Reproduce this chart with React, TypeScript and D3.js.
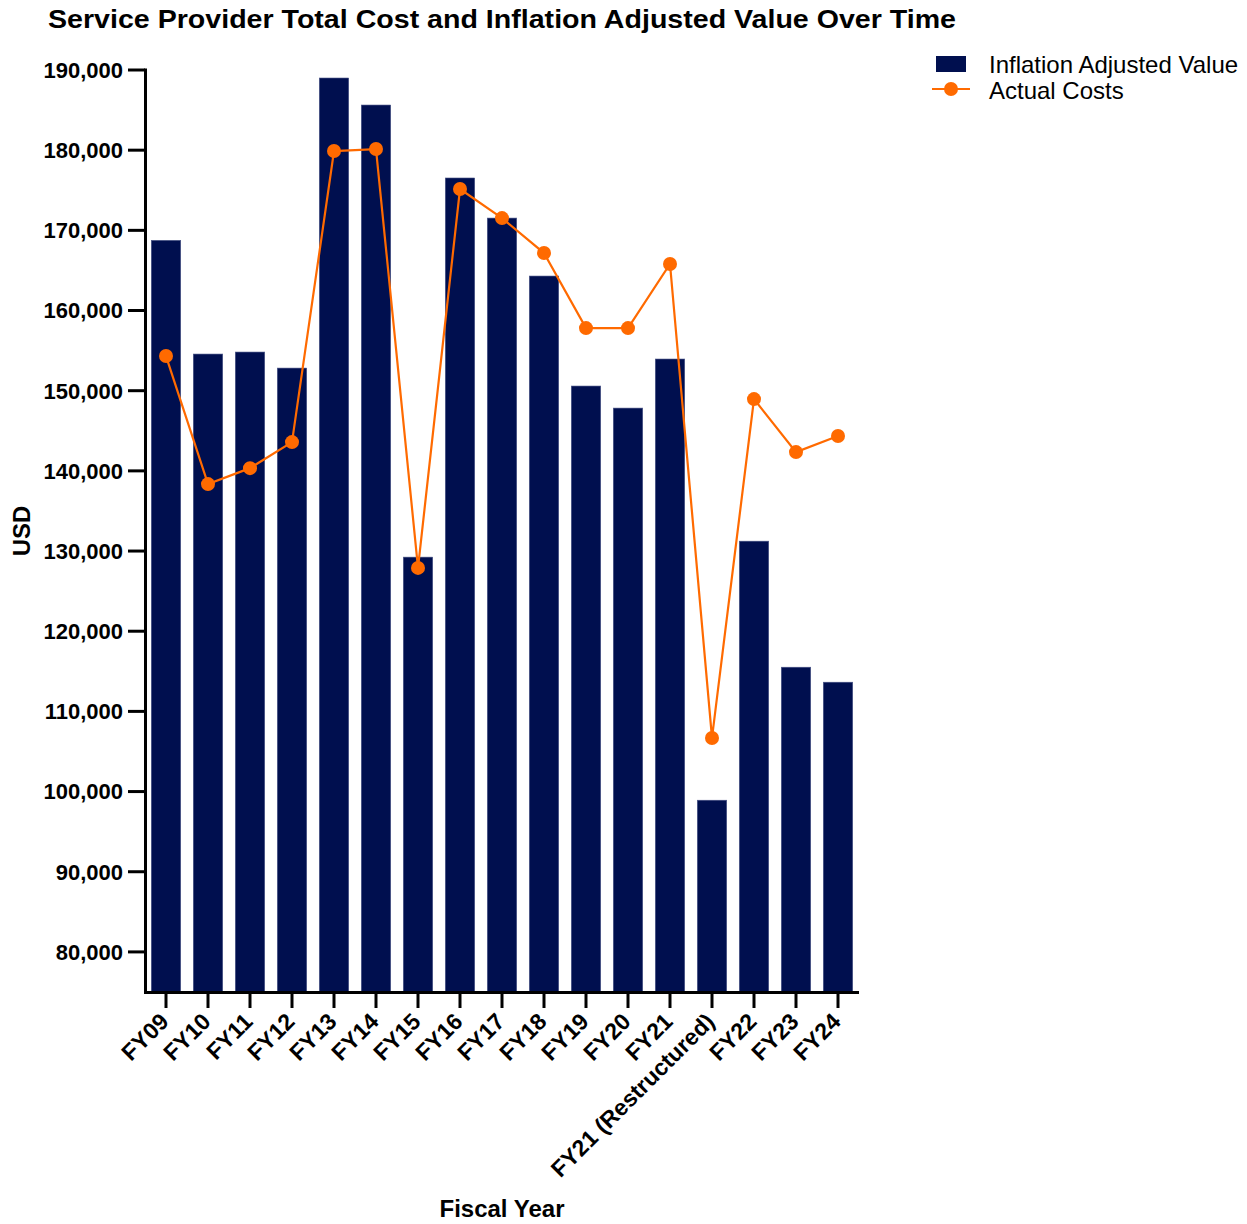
import React from "react";
import * as d3 from "d3";

const categories = [
  "FY09", "FY10", "FY11", "FY12", "FY13", "FY14", "FY15", "FY16", "FY17",
  "FY18", "FY19", "FY20", "FY21", "FY21 (Restructured)", "FY22", "FY23", "FY24",
];

const inflationAdjusted = [
  168750, 154570, 154820, 152820, 189000, 185630, 129240, 176530, 171530,
  164300, 150580, 147830, 153950, 98920, 131230, 115510, 113640,
];

const actualCosts = [
  154320, 138350, 140340, 143590, 179890, 180140, 127900, 175150, 171530,
  167170, 157810, 157810, 165800, 106690, 148950, 142340, 144340,
];

const yTicks = [80000, 90000, 100000, 110000, 120000, 130000, 140000, 150000, 160000, 170000, 180000, 190000];

const FONT = "'Liberation Sans', Arial, Helvetica, sans-serif";
const BAR = "#000F4F";
const LINE = "#FF6A00";

export default function App() {
  const W = 1247;
  const H = 1224;
  const y = d3.scaleLinear().domain([75000, 190000]).range([992, 70]);
  const x = d3
    .scaleBand<string>()
    .domain(categories)
    .range([145, 859])
    .paddingInner(0.3)
    .paddingOuter(0.15);
  const cx = (c: string) => (x(c) ?? 0) + x.bandwidth() / 2;
  const yBase = y(75000);

  const line = d3
    .line<number>()
    .x((_, i) => cx(categories[i]))
    .y((d) => y(d));

  const fmt = d3.format(",");

  return (
    <svg
      width={W}
      height={H}
      style={{ position: "absolute", left: 0, top: 0, display: "block", background: "#fff" }}
      fontFamily={FONT}
    >
      <text
        x={48}
        y={28}
        fontSize={26}
        fontWeight="bold"
        fill="#000"
        textLength={908}
        lengthAdjust="spacingAndGlyphs"
      >
        Service Provider Total Cost and Inflation Adjusted Value Over Time
      </text>

      {/* bars */}
      {inflationAdjusted.map((v, i) => (
        <rect
          key={categories[i]}
          x={x(categories[i])}
          y={y(v)}
          width={x.bandwidth()}
          height={yBase - y(v)}
          fill={BAR}
          stroke="#4a5588"
          strokeWidth={0.6}
        />
      ))}

      {/* cost line */}
      <path d={line(actualCosts) ?? ""} fill="none" stroke={LINE} strokeWidth={2.2} />
      {actualCosts.map((v, i) => (
        <circle key={categories[i]} cx={cx(categories[i])} cy={y(v)} r={7} fill={LINE} />
      ))}

      {/* y axis */}
      <line x1={145.5} x2={145.5} y1={68.5} y2={994} stroke="#000" strokeWidth={3} />
      {yTicks.map((t) => (
        <g key={t} transform={`translate(0,${y(t)})`}>
          <line x1={128} x2={145} y1={0} y2={0} stroke="#000" strokeWidth={3} />
          <text x={123} y={0} dy="0.36em" textAnchor="end" fontSize={22} fontWeight="bold" fill="#000">
            {fmt(t)}
          </text>
        </g>
      ))}

      {/* x axis */}
      <line x1={144} x2={859} y1={992.5} y2={992.5} stroke="#000" strokeWidth={3} />
      {categories.map((c) => (
        <g key={c} transform={`translate(${cx(c)},0)`}>
          <line x1={0} x2={0} y1={992} y2={1008} stroke="#000" strokeWidth={3} />
          <text
            transform="translate(4,1023) rotate(-45)"
            textAnchor="end"
            fontSize={23}
            fontWeight="bold"
            fill="#000"
          >
            {c}
          </text>
        </g>
      ))}

      {/* axis titles */}
      <text x={502} y={1217} textAnchor="middle" fontSize={24} fontWeight="bold" fill="#000">
        Fiscal Year
      </text>
      <text
        transform="translate(30,531) rotate(-90)"
        textAnchor="middle"
        fontSize={24}
        fontWeight="bold"
        fill="#000"
      >
        USD
      </text>

      {/* legend */}
      <rect x={936} y={56} width={30} height={16} fill={BAR} />
      <text x={989} y={73} fontSize={24} fill="#000">
        Inflation Adjusted Value
      </text>
      <line x1={932} x2={970} y1={89} y2={89} stroke={LINE} strokeWidth={2.2} />
      <circle cx={951} cy={89} r={7} fill={LINE} />
      <text x={989} y={99} fontSize={24} fill="#000">
        Actual Costs
      </text>
    </svg>
  );
}
